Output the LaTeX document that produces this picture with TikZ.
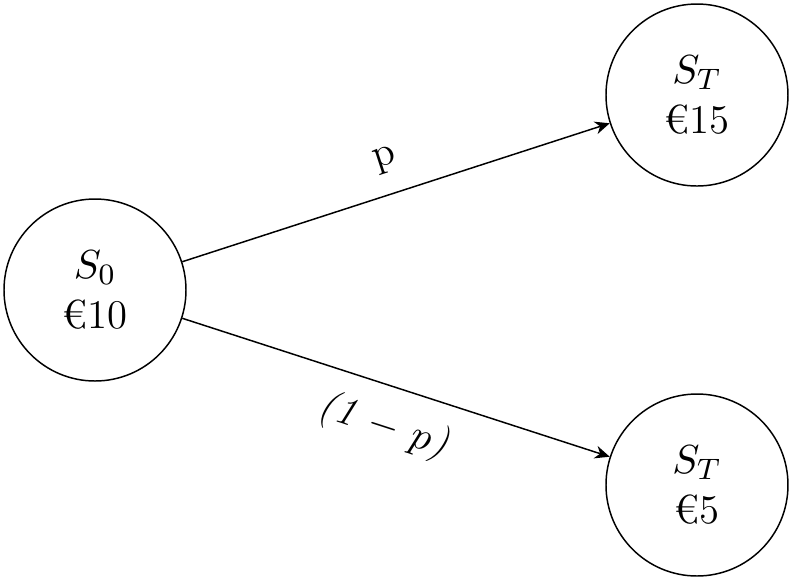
\documentclass[tikz,border=0pt]{standalone}
\usepackage{fontspec}
\usetikzlibrary{arrows.meta}
\begin{document}
\begin{tikzpicture}[x=0.27pt,y=-0.27pt,
  st/.style={circle,draw,minimum size=182*0.27pt,inner sep=0pt,align=center,font=\fontsize{11}{13.5}\selectfont},
  arr/.style={-{Stealth[length=4pt,width=3.5pt]},thin}]
\useasboundingbox (0,0) rectangle (790,580);
\node[st] (s0) at (95,290) {$S_0$\\€10};
\node[st] (su) at (697,95) {$S_T$\\€15};
\node[st] (sd) at (697,485) {$S_T$\\€5};
\draw[arr] (s0) -- node[above,sloped,yshift=2pt,font=\fontsize{11}{13}\selectfont]{p} (su);
\draw[arr] (s0) -- node[below,sloped,yshift=-2pt,font=\fontsize{11}{13}\selectfont]{\itshape (1 $-$ $p$)} (sd);
\end{tikzpicture}
\end{document}
